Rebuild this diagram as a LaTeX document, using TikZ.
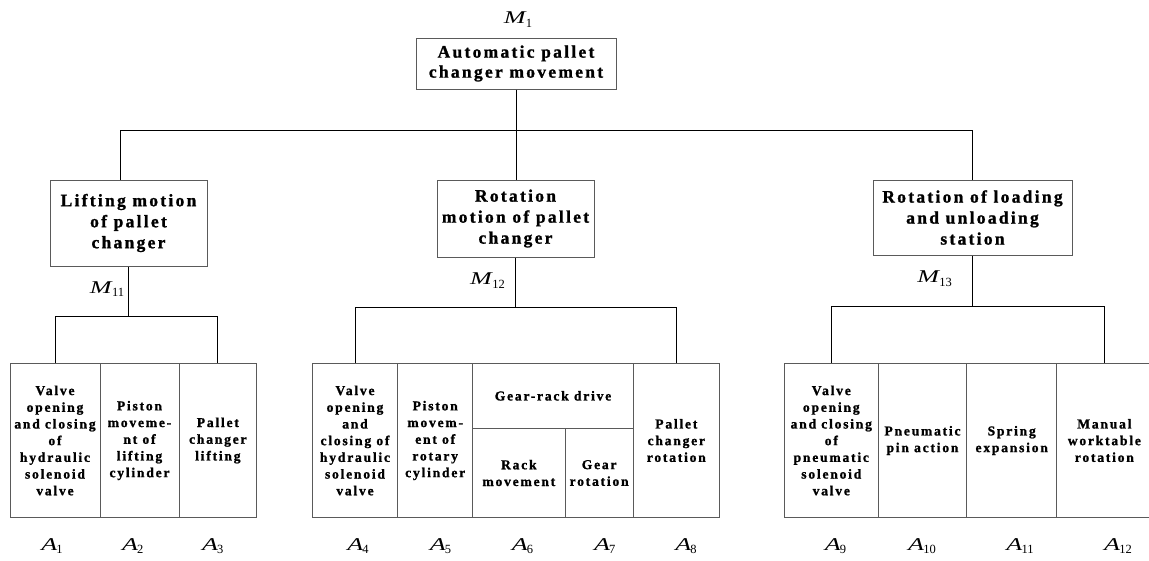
\documentclass[tikz,border=0pt]{standalone}
\usepackage{graphicx}
\usepackage{fontspec}
\setmainfont{Liberation Serif}
\newfontfamily\spacedbold{Liberation Serif Bold}[LetterSpace=13, FakeBold=1.2]
\usetikzlibrary{fit}
\definecolor{boxgray}{HTML}{5A5A5A}
\newcommand\sym[2]{\scalebox{1.45}[1]{\textit{#1}}\kern-0.05em\raisebox{-0.45ex}{\fontsize{12.5}{12.5}\selectfont #2}}
\tikzset{
  box/.style={draw=boxgray, line width=1pt, inner sep=0pt},
  boxtext/.style={inner sep=0pt, align=center},
  toptext/.style={boxtext, font=\spacedbold\fontsize{17.5}{20}\selectfont},
  midtext/.style={boxtext, font=\spacedbold\fontsize{17.5}{21}\selectfont},
  leaftext/.style={boxtext, font=\spacedbold\fontsize{13.6}{16.7}\selectfont},
  link/.style={draw=black, line width=1pt},
  symlabel/.style={inner sep=0pt, font=\fontsize{18}{18}\selectfont}
}
\begin{document}
\begin{tikzpicture}[x=1pt, y=-1pt]
\useasboundingbox (0,0) rectangle (1149,560);
\clip (0,0) rectangle (1149,560);

% frames
\node[box, fit={(416,38) (616,89)}] (root) {};
\node[box, fit={(50,180) (207,266)}] (lift) {};
\node[box, fit={(437,180) (594,257)}] (rot) {};
\node[box, fit={(873,180) (1072,255)}] (stat) {};
\node[box, fit={(10,363.3) (100,517.7)}] (a1) {};
\node[box, fit={(100,363.3) (179,517.7)}] (a2) {};
\node[box, fit={(179,363.3) (256.7,517.7)}] (a3) {};
\node[box, fit={(312.3,363.3) (397.7,517.7)}] (a4) {};
\node[box, fit={(397.7,363.3) (472.7,517.7)}] (a5) {};
\node[box, fit={(472.7,363.3) (633.3,428.3)}] (gear) {};
\node[box, fit={(472.7,428.3) (565,517.7)}] (a6) {};
\node[box, fit={(565,428.3) (633.3,517.7)}] (a7) {};
\node[box, fit={(633.3,363.3) (719.3,517.7)}] (a8) {};
\node[box, fit={(784.3,363.3) (878.3,517.7)}] (a9) {};
\node[box, fit={(878.3,363.3) (966.7,517.7)}] (a10) {};
\node[box, fit={(966.7,363.3) (1056.7,517.7)}] (a11) {};
\node[box, fit={(1056.7,363.3) (1152,517.7)}] (a12) {};

% texts inside the frames
\node[toptext] (troot) at (root.center) {Automatic pallet\\changer movement};
\node[midtext] (tlift) at (lift.center) {Lifting motion\\of pallet\\changer};
\node[midtext] (trot) at (rot.center) {Rotation\\motion of pallet\\changer};
\node[midtext] (tstat) at (stat.center) {Rotation of loading\\and unloading\\station};
\node[leaftext] (ta1) at (a1.center) {Valve\\opening\\and closing\\of\\hydraulic\\solenoid\\valve};
\node[leaftext] (ta2) at (a2.center) {Piston\\moveme-\\nt of\\lifting\\cylinder};
\node[leaftext] (ta3) at (a3.center) {Pallet\\changer\\lifting};
\node[leaftext] (ta4) at (a4.center) {Valve\\opening\\and\\closing of\\hydraulic\\solenoid\\valve};
\node[leaftext] (ta5) at (a5.center) {Piston\\movem-\\ent of\\rotary\\cylinder};
\node[leaftext] (tgear) at (gear.center) {Gear-rack drive};
\node[leaftext] (ta6) at (a6.center) {Rack\\movement};
\node[leaftext] (ta7) at (a7.center) {Gear\\rotation};
\node[leaftext] (ta8) at (a8.center) {Pallet\\changer\\rotation};
\node[leaftext] (ta9) at (a9.center) {Valve\\opening\\and closing\\of\\pneumatic\\solenoid\\valve};
\node[leaftext] (ta10) at (a10.center) {Pneumatic\\pin action};
\node[leaftext] (ta11) at (a11.center) {Spring\\expansion};
\node[leaftext] (ta12) at (a12.center) {Manual\\worktable\\rotation};

% symbols
\node[symlabel] (m1) at (518,19.5) {\sym{M}{1}};
\node[symlabel] (m11) at (107,289) {\sym{M}{11}};
\node[symlabel] (m12) at (487.5,280.5) {\sym{M}{12}};
\node[symlabel] (m13) at (934.7,278.7) {\sym{M}{13}};
\node[symlabel] (s1) at (52,546) {\sym{A}{1}};
\node[symlabel] (s2) at (132.8,546) {\sym{A}{2}};
\node[symlabel] (s3) at (212.8,546) {\sym{A}{3}};
\node[symlabel] (s4) at (358,546) {\sym{A}{4}};
\node[symlabel] (s5) at (440.5,546) {\sym{A}{5}};
\node[symlabel] (s6) at (522.5,546) {\sym{A}{6}};
\node[symlabel] (s7) at (604.7,546) {\sym{A}{7}};
\node[symlabel] (s8) at (686,546) {\sym{A}{8}};
\node[symlabel] (s9) at (835.5,546) {\sym{A}{9}};
\node[symlabel] (s10) at (922,546) {\sym{A}{10}};
\node[symlabel] (s11) at (1020,546) {\sym{A}{11}};
\node[symlabel] (s12) at (1118,546) {\sym{A}{12}};

% connectors: root to second level
\coordinate (busl) at (120,130);
\coordinate (busr) at (972,130);
\draw[link] (root.south) -- (root.south |- rot.north);
\draw[link] (busl) -- (busr);
\draw[link] (busl) -- (busl |- lift.north);
\draw[link] (busr) -- (busr |- stat.north);

% connectors: second level to leaves
\coordinate (b1) at (128.5,316);
\draw[link] (lift.south) -- (b1);
\draw[link] (a1.north) -- (a1.north |- b1) -- (a3.north |- b1) -- (a3.north);

\coordinate (b2) at (515.5,307.7);
\draw[link] (rot.south) -- (b2);
\draw[link] (a4.north) -- (a4.north |- b2) -- (a8.north |- b2) -- (a8.north);

\coordinate (b3) at (972.5,306.7);
\draw[link] (stat.south) -- (b3);
\draw[link] (a9.north) -- (a9.north |- b3) -- (a12.north |- b3) -- (a12.north);
\end{tikzpicture}
\end{document}
